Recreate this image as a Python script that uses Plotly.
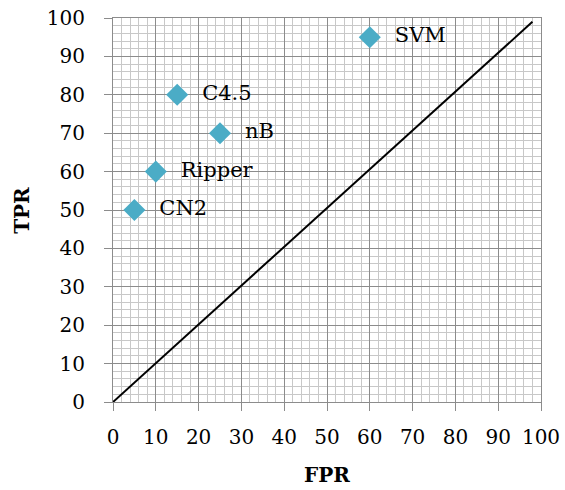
import plotly.graph_objects as go

names = ["SVM", "C4.5", "nB", "Ripper", "CN2"]
fpr = [60, 15, 25, 10, 5]
tpr = [95, 80, 70, 60, 50]
diag_x = [0, 98]
diag_y = [0, 99]

font_family = "DejaVu Serif"

fig = go.Figure()
fig.add_trace(go.Scatter(x=diag_x, y=diag_y, mode="lines",
                         line=dict(color="black", width=2), showlegend=False, hoverinfo="skip"))
fig.add_trace(go.Scatter(x=fpr, y=tpr, mode="markers+text", text=["  " + n for n in names],
                         textposition="middle right",
                         textfont=dict(family=font_family, size=21, color="black"),
                         marker=dict(symbol="diamond", size=17, color="#4BACC6"),
                         showlegend=False))

axis_common = dict(
    range=[0, 100], dtick=10, tick0=0,
    showgrid=True, gridcolor="#8c8c8c", gridwidth=1,
    minor=dict(dtick=2, showgrid=True, gridcolor="#c8c8c8", gridwidth=1),
    showline=True, linecolor="#8c8c8c", linewidth=1, mirror=True,
    ticks="outside", ticklen=8, tickcolor="#8c8c8c",
    tickfont=dict(family=font_family, size=20, color="black"),
    zeroline=False, automargin=False, ticklabeloverflow="allow",
)

fig.update_xaxes(**axis_common, ticklabelstandoff=9,
                 title=dict(text="<b>FPR</b>", font=dict(family=font_family, size=20, color="black"), standoff=19))
fig.update_yaxes(**axis_common, ticklabelstandoff=15)

fig.add_annotation(text="<b>TPR</b>", xref="paper", yref="paper", x=-0.213, y=0.5,
                   xanchor="center", yanchor="middle", textangle=-90, showarrow=False,
                   font=dict(family=font_family, size=20, color="black"))

fig.update_layout(
    width=565, height=490,
    margin=dict(l=113, r=24, t=18, b=88),
    plot_bgcolor="white", paper_bgcolor="white",
)

# remove the browser's default 8px body margin so the figure fills the window exactly
fig.write_html("out.html", config={"displayModeBar": False},
               post_script="document.body.style.margin='0';")
